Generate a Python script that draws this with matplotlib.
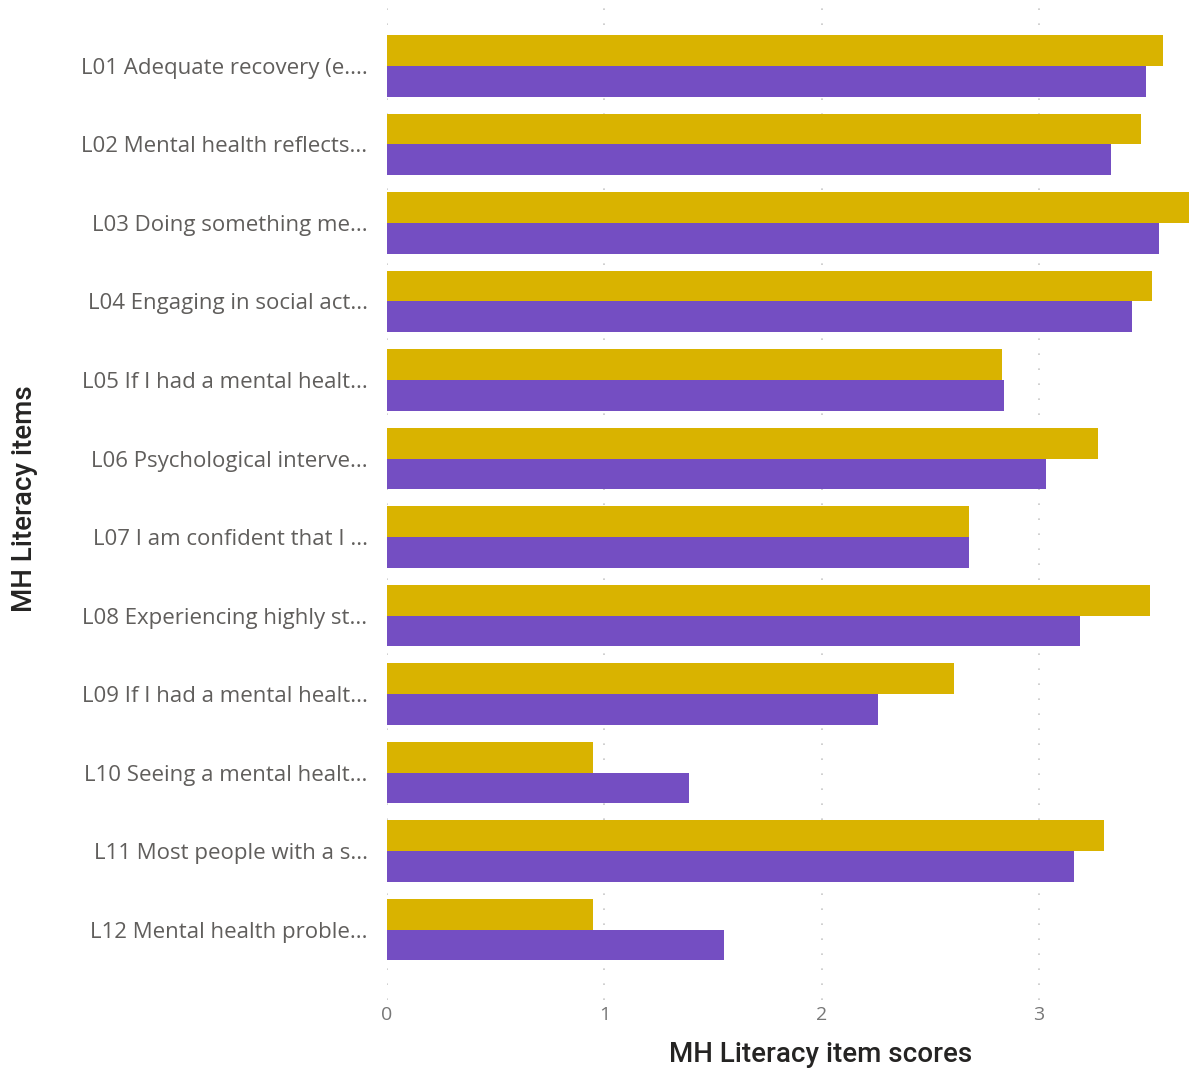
import matplotlib.pyplot as plt
import numpy as np

# Mean MH Literacy scores per item, two groups
items = [
    "L01 Adequate recovery (e....",
    "L02 Mental health reflects...",
    "L03 Doing something me...",
    "L04 Engaging in social act...",
    "L05 If I had a mental healt...",
    "L06 Psychological interve...",
    "L07 I am confident that I ...",
    "L08 Experiencing highly st...",
    "L09 If I had a mental healt...",
    "L10 Seeing a mental healt...",
    "L11 Most people with a s...",
    "L12 Mental health proble...",
]
scores_gold = [3.57, 3.47, 3.69, 3.52, 2.83, 3.27, 2.68, 3.51, 2.61, 0.95, 3.30, 0.95]
scores_purple = [3.49, 3.33, 3.55, 3.43, 2.84, 3.03, 2.68, 3.19, 2.26, 1.39, 3.16, 1.55]
x_ticks = [0, 1, 2, 3]

GOLD = "#D9B300"
PURPLE = "#744EC2"
TEXT_GRAY = "#605E5C"

W, H = 1189, 1072
fig = plt.figure(figsize=(W / 100, H / 100), dpi=100)
ax = fig.add_axes([387 / W, 1 - 1000 / H, (1189 - 387) / W, 995 / H])

y = np.arange(len(items))
bar_h = 0.39
ax.barh(y - bar_h / 2, scores_gold, height=bar_h, color=GOLD, zorder=2)
ax.barh(y + bar_h / 2, scores_purple, height=bar_h, color=PURPLE, zorder=2)

ax.set_xlim(0, 3.69)
ax.set_ylim(11.898, -0.777)

ax.set_xticks(x_ticks)
ax.set_xticklabels([str(t) for t in x_ticks], fontsize=14, color="#777777", family="Open Sans")
ax.set_yticks(y)
ax.set_yticklabels(items, fontsize=16, color=TEXT_GRAY, family="Open Sans")
ax.tick_params(axis="y", length=0, pad=14)
ax.tick_params(axis="x", length=0, pad=4)

ax.grid(axis="x", color="#C8C8C8", linestyle=(0, (1, 8)), linewidth=1.2, zorder=0)
ax.grid(axis="y", visible=False)
for side in ax.spines.values():
    side.set_visible(False)

fig.text(821 / W, 1 - 1054 / H, "MH Literacy item scores", ha="center", va="center",
         fontsize=20, color="#252423", family="Roboto", fontweight="medium")
fig.text(25 / W, 1 - 499 / H, "MH Literacy items", ha="center", va="center",
         rotation=90, fontsize=20, color="#252423", family="Roboto", fontweight="medium")

fig.savefig("out.png", dpi=100)
